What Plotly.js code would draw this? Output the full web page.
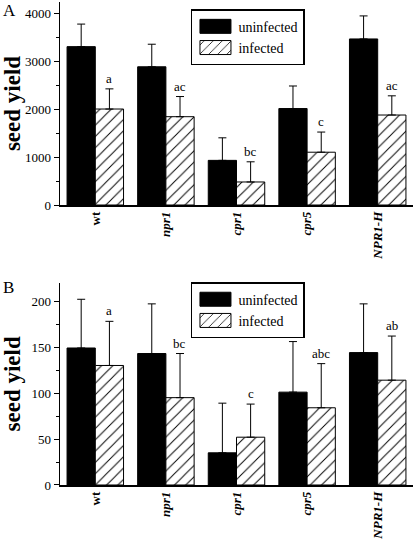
<!DOCTYPE html>
<html><head><meta charset="utf-8">
<script src="https://cdn.plot.ly/plotly-3.0.1.min.js"></script>
<style>html,body{margin:0;padding:0;background:#fff}#chart{width:415px;height:542px}</style>
</head><body><div id="chart"></div>
<script>
const categories = ['wt', 'npr1', 'cpr1', 'cpr5', 'NPR1-H'];
const tickLabels = ['<b>wt</b>', '<b><i>npr1</i></b>', '<b><i>cpr1</i></b>', '<b><i>cpr5</i></b>', '<b><i>NPR1-H</i></b>'];

const A_uninfected = [3300, 2880, 930, 2010, 3460];
const A_uninfectedErr = [470, 470, 470, 470, 480];
const A_infected = [2000, 1840, 480, 1100, 1875];
const A_infectedErr = [420, 420, 420, 420, 400];
const A_letters = ['a', 'ac', 'bc', 'c', 'ac'];

const B_uninfected = [149, 143, 35, 101, 144];
const B_uninfectedErr = [53, 54, 54, 55, 53];
const B_infected = [130, 95, 52, 84, 114];
const B_infectedErr = [48, 48, 36, 48, 48];
const B_letters = ['a', 'bc', 'c', 'abc', 'ab'];

const FONT = "'Liberation Serif', 'Times New Roman', Times, serif";

function bars(y, err, infected, xa, ya, leg) {
  return {
    type: 'bar', x: categories, y: y, xaxis: xa, yaxis: ya,
    name: infected ? 'infected' : 'uninfected',
    legend: leg, showlegend: true,
    marker: infected
      ? {color: '#fff', line: {color: '#000', width: 1}, pattern: {shape: '/', fgcolor: '#000', bgcolor: '#fff', size: 8, solidity: 0.12}}
      : {color: '#000', line: {color: '#000', width: 1}},
    error_y: {type: 'data', symmetric: false, array: err, arrayminus: err.map(() => 0), color: '#000', thickness: 1, width: 4},
    hoverinfo: 'none'
  };
}

const data = [
  bars(A_uninfected, A_uninfectedErr, false, 'x', 'y', 'legend'),
  bars(A_infected, A_infectedErr, true, 'x', 'y', 'legend'),
  bars(B_uninfected, B_uninfectedErr, false, 'x2', 'y2', 'legend2'),
  bars(B_infected, B_infectedErr, true, 'x2', 'y2', 'legend2')
];

const annotations = [];
categories.forEach((c, i) => {
  annotations.push({xref: 'x', yref: 'y', x: c, y: A_infected[i] + A_infectedErr[i], text: A_letters[i], showarrow: false, xshift: 14, yanchor: 'bottom', yshift: 1, font: {family: FONT, size: 13, color: '#000'}});
  annotations.push({xref: 'x2', yref: 'y2', x: c, y: B_infected[i] + B_infectedErr[i], text: B_letters[i], showarrow: false, xshift: 14, yanchor: 'bottom', yshift: 1, font: {family: FONT, size: 13, color: '#000'}});
});
annotations.push({xref: 'paper', yref: 'paper', x: -0.168, y: 1.006, xanchor: 'left', yanchor: 'top', text: 'A', showarrow: false, font: {family: FONT, size: 17, color: '#000'}});
annotations.push({xref: 'paper', yref: 'paper', x: -0.168, y: 0.432, xanchor: 'left', yanchor: 'top', text: 'B', showarrow: false, font: {family: FONT, size: 17, color: '#000'}});

const xBase = {
  type: 'category', range: [-0.5, 4.5], showline: true, linecolor: '#000', linewidth: 1.5,
  ticks: '', tickangle: -90, tickmode: 'array', tickvals: categories, ticktext: tickLabels,
  tickfont: {family: FONT, size: 13, color: '#000'}, showgrid: false, zeroline: false, fixedrange: true
};
const yBase = {
  showline: true, linecolor: '#000', linewidth: 1.5, ticks: 'outside', ticklen: 5, tickwidth: 1, tickcolor: '#000',
  tickfont: {family: FONT, size: 13, color: '#000'}, showgrid: false, zeroline: false,
  title: {text: '<b>seed yield</b>', font: {family: FONT, size: 23, color: '#000'}, standoff: 8}
};

const layout = {
  width: 415, height: 542,
  margin: {l: 60, r: 2, t: 2, b: 57},
  paper_bgcolor: '#fff', plot_bgcolor: '#fff',
  barmode: 'group', bargap: 0.2, bargroupgap: 0,
  font: {family: FONT, color: '#000'},
  xaxis: Object.assign({}, xBase, {anchor: 'y'}),
  xaxis2: Object.assign({}, xBase, {anchor: 'y2'}),
  yaxis: Object.assign({}, yBase, {domain: [0.5797, 1], range: [0, 4230], dtick: 1000, tick0: 0,
    minor: {dtick: 500, ticks: 'outside', ticklen: 3, tickcolor: '#000', showgrid: false}}),
  yaxis2: Object.assign({}, yBase, {domain: [0, 0.4188], range: [0, 220], dtick: 50, tick0: 0,
    minor: {dtick: 25, ticks: 'outside', ticklen: 3, tickcolor: '#000', showgrid: false}}),
  legend: {x: 0.371, y: 0.985, xanchor: 'left', yanchor: 'top', bordercolor: '#000', borderwidth: 1.5, bgcolor: '#fff',
    font: {family: FONT, size: 14, color: '#000'}, traceorder: 'normal', itemwidth: 36, tracegroupgap: 0},
  legend2: {x: 0.371, y: 0.42, xanchor: 'left', yanchor: 'top', bordercolor: '#000', borderwidth: 1.5, bgcolor: '#fff',
    font: {family: FONT, size: 14, color: '#000'}, traceorder: 'normal', itemwidth: 36, tracegroupgap: 0},
  annotations: annotations
};

Plotly.newPlot('chart', data, layout, {staticPlot: true, displayModeBar: false}).then(() => {
  document.querySelectorAll('.legendpoints path').forEach(p => {
    p.setAttribute('d', 'M15.5,7H-15.5V-7H15.5Z');
  });
});
</script></body></html>
